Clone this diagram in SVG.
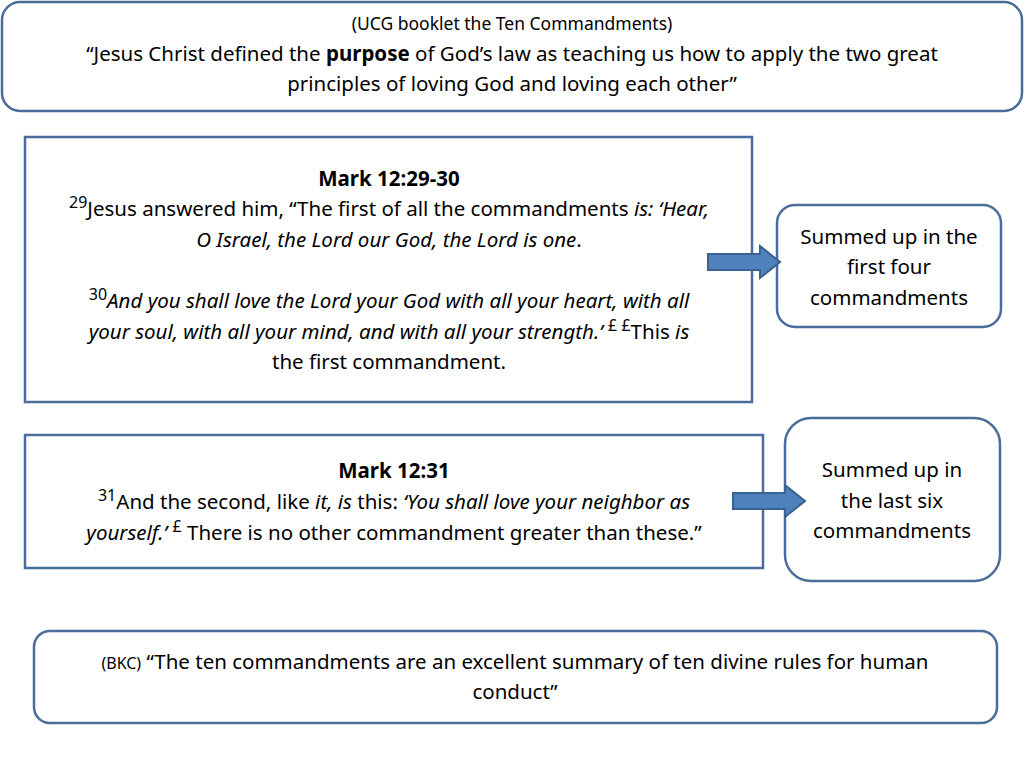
<svg xmlns="http://www.w3.org/2000/svg" width="1024" height="768" viewBox="0 0 1024 768">
<style>
.b{fill:#fff;stroke:#4a6d9a;stroke-width:2.5}
.t{font-family:"Noto Sans","Liberation Sans",sans-serif;font-size:20.5px;fill:#000;text-anchor:middle}
.s{font-size:16px}
.a{fill:#4f81bd;stroke:#3a6290;stroke-width:2}
</style>
<rect width="1024" height="768" fill="#fff"/>
<g id="ucg">
<rect class="b" x="2" y="2" width="1020" height="109" rx="18"/>
<text class="t" x="512" y="30" style="font-size:17.5px">(UCG booklet the Ten Commandments)</text>
<text class="t" x="512" y="61">“Jesus Christ defined the <tspan font-weight="bold">purpose</tspan> of God’s law as teaching us how to apply the two great</text>
<text class="t" x="512" y="91">principles of loving God and loving each other”</text>
</g>
<g id="mark1">
<rect class="b" x="25" y="137" width="727" height="265"/>
<text class="t" x="389" y="186" font-weight="bold">Mark 12:29-30</text>
<text class="t" x="389" y="216"><tspan class="s" dy="-8">29</tspan><tspan dy="8">Jesus answered him, “The first of all the commandments </tspan><tspan font-style="italic">is: ‘Hear,</tspan></text>
<text class="t" x="389" y="247"><tspan font-style="italic">O Israel, the Lord our God, the Lord is one</tspan>.</text>
<text class="t" x="389" y="308"><tspan class="s" dy="-8">30</tspan><tspan dy="8" font-style="italic">And you shall love the Lord your God with all your heart, with all</tspan></text>
<text class="t" x="389" y="339"><tspan font-style="italic">your soul, with all your mind, and with all your strength.’ </tspan><tspan class="s" dy="-8">£ £</tspan><tspan dy="8">This </tspan><tspan font-style="italic">is</tspan></text>
<text class="t" x="389" y="369">the first commandment.</text>
</g>
<g id="four">
<rect class="b" x="777" y="205" width="224" height="122" rx="18"/>
<text class="t" x="889" y="244">Summed up in the</text>
<text class="t" x="889" y="274">first four</text>
<text class="t" x="889" y="305">commandments</text>
</g>
<g id="mark2">
<rect class="b" x="25" y="435" width="738" height="133"/>
<text class="t" x="394" y="478" font-weight="bold">Mark 12:31</text>
<text class="t" x="394" y="509"><tspan class="s" dy="-8">31</tspan><tspan dy="8">And the second, like </tspan><tspan font-style="italic">it, is</tspan> this: <tspan font-style="italic">‘You shall love your neighbor as</tspan></text>
<text class="t" x="394" y="540"><tspan font-style="italic">yourself.’ </tspan><tspan class="s" dy="-8">£</tspan><tspan dy="8"> There is no other commandment greater than these.”</tspan></text>
</g>
<g id="six">
<rect class="b" x="785" y="418" width="215" height="163" rx="26"/>
<text class="t" x="892" y="477">Summed up in</text>
<text class="t" x="892" y="508">the last six</text>
<text class="t" x="892" y="538">commandments</text>
</g>
<g id="bkc">
<rect class="b" x="34" y="631" width="963" height="92" rx="16"/>
<text class="t" x="515" y="669"><tspan style="font-size:16px">(BKC)</tspan>  “The ten commandments are an excellent summary of ten divine rules for human</text>
<text class="t" x="515" y="699">conduct”</text>
</g>
<g id="connectors">
<polygon class="a" points="708,254 760,254 760,246 780,262 760,278 760,270 708,270"/>
<polygon class="a" points="733,493 785,493 785,485 805,501 785,517 785,509 733,509"/>
</g>
</svg>
